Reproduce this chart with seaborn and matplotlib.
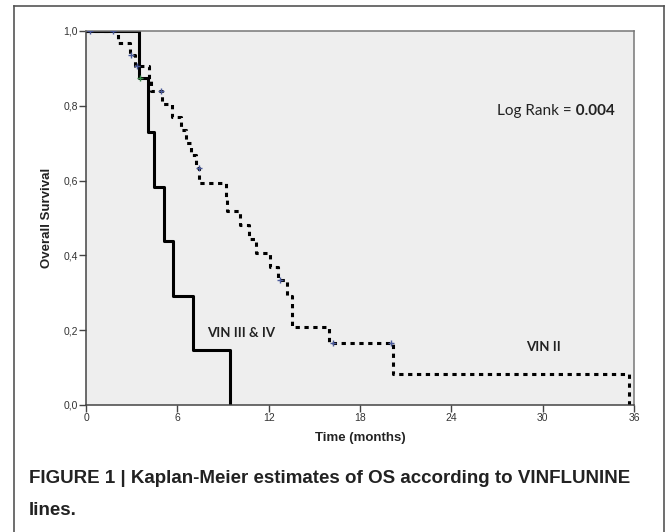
import seaborn as sns
import matplotlib.pyplot as plt
import pandas as pd
from matplotlib.lines import Line2D
from matplotlib.ticker import FuncFormatter

# Kaplan-Meier step data (time in months, survival after the step)
vin34_time = [0, 3.5, 4.05, 4.45, 5.1, 5.7, 7.0, 9.45]
vin34_surv = [1.0, 0.875, 0.729, 0.583, 0.4375, 0.292, 0.146, 0.0]

vin2_time = [0, 2.1, 2.9, 3.2, 4.15, 4.3, 5.0, 5.65, 6.25, 6.6, 6.9, 7.2, 7.45,
             9.2, 9.25, 10.1, 10.7, 11.15, 12.1, 12.6, 13.2, 13.5, 15.95, 20.2, 35.7]
vin2_surv = [1.0, 0.967, 0.935, 0.906, 0.872, 0.840, 0.805, 0.771, 0.735, 0.70, 0.668, 0.633, 0.594,
             0.556, 0.519, 0.48, 0.445, 0.407, 0.37, 0.334, 0.292, 0.209, 0.167, 0.084, 0.0]

# censored observations
vin2_cens_time = [0.25, 1.8, 2.95, 3.35, 4.95, 7.4, 12.75, 16.2, 20.05]
vin2_cens_surv = [1.0, 1.0, 0.935, 0.906, 0.840, 0.633, 0.334, 0.167, 0.167]
vin34_cens_time = [3.55]
vin34_cens_surv = [0.875]

x_ticks = [0, 6, 12, 18, 24, 30, 36]
y_ticks = [0.0, 0.2, 0.4, 0.6, 0.8, 1.0]

df = pd.concat([
    pd.DataFrame({'time': vin34_time, 'surv': vin34_surv, 'group': 'VIN III & IV'}),
    pd.DataFrame({'time': vin2_time, 'surv': vin2_surv, 'group': 'VIN II'}),
])

plt.rcParams['font.family'] = ['Liberation Sans', 'DejaVu Sans']
label_font = ['Lato', 'DejaVu Sans']

fig = plt.figure(figsize=(6.69, 5.32), dpi=100)
ax = fig.add_axes([86 / 669, 1 - 405 / 532, 548 / 669, 374 / 532])
ax.set_facecolor('#eeeeee')

sns.lineplot(data=df, x='time', y='surv', hue='group', style='group',
             palette={'VIN III & IV': 'black', 'VIN II': 'black'},
             dashes={'VIN III & IV': '', 'VIN II': (1.4, 1.5)},
             drawstyle='steps-post', estimator=None, sort=False,
             linewidth=2.2, legend=False, ax=ax)

# censor marks
ax.scatter(vin2_cens_time, vin2_cens_surv, marker='+', s=22, color='#4a5a9a', linewidths=1, zorder=3)
ax.scatter(vin34_cens_time, vin34_cens_surv, marker='+', s=22, color='#3a8a4a', linewidths=1, zorder=3)

ax.set_xlim(0, 36)
ax.set_ylim(0, 1.0)
ax.set_xticks(x_ticks)
ax.set_yticks(y_ticks)
ax.yaxis.set_major_formatter(FuncFormatter(lambda v, p: f'{v:.1f}'.replace('.', ',')))
ax.tick_params(direction='out', length=5, width=1, color='#444444', labelsize=7.5,
               labelcolor='#333333', pad=1)

for side in ['left', 'bottom']:
    ax.spines[side].set_color('#444444')
    ax.spines[side].set_linewidth(1.1)
for side in ['top', 'right']:
    ax.spines[side].set_color('#777777')
    ax.spines[side].set_linewidth(1.1)

ax.set_xlabel('Time (months)', fontsize=9.5, fontweight='bold', color='#222222', labelpad=6)
ax.set_ylabel('Overall Survival', fontsize=9.5, fontweight='bold', color='#222222', labelpad=7)

# annotations
lr = ax.text(27.0, 0.786, 'Log Rank =', fontsize=11, family=label_font,
             va='center', ha='left', color='#222222')
ax.annotate(' 0.004', xy=(1, 0.5), xycoords=lr, fontsize=11, family=label_font,
            fontweight='bold', va='center', ha='left', color='#222222')
ax.text(7.95, 0.193, 'VIN III & IV', fontsize=9.5, family=label_font,
        fontweight='bold', va='center', ha='left', color='#222222')
ax.text(28.9, 0.156, 'VIN II', fontsize=9.5, family=label_font,
        fontweight='bold', va='center', ha='left', color='#222222')

# outer frame around the figure panel
bx0, bx1, by1 = 14 / 669, 664 / 669, 1 - 6 / 532
for xs, ys in [([bx0, bx0], [-0.1, by1]), ([bx0, bx1], [by1, by1]), ([bx1, bx1], [by1, -0.1])]:
    fig.add_artist(Line2D(xs, ys, transform=fig.transFigure, color='#555555', linewidth=1.2))

fig.text(29 / 669, 1 - 470 / 532,
         'FIGURE 1 | Kaplan-Meier estimates of OS according to VINFLUNINE\nlines.',
         fontsize=13.5, fontweight='bold', family=['Liberation Sans', 'DejaVu Sans'],
         va='top', ha='left', linespacing=2.15, color='#222222')

plt.savefig('out.png', dpi=100)
